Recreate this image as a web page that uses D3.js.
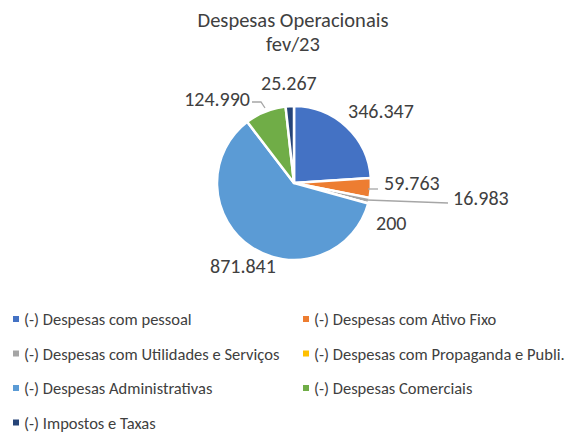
<!DOCTYPE html>
<html>
<head>
<meta charset="utf-8">
<script src="https://cdn.jsdelivr.net/npm/d3@7/dist/d3.min.js"></script>
<style>
  html, body { margin: 0; padding: 0; background: #fff; }
  svg { display: block; font-family: Carlito, Calibri, Lato, "Liberation Sans", sans-serif; }
</style>
</head>
<body>
<svg id="chart" width="579" height="433"></svg>
<script>
const categories = [
  "(-) Despesas com pessoal",
  "(-) Despesas com Ativo Fixo",
  "(-) Despesas com Utilidades e Serviços",
  "(-) Despesas com Propaganda e Publi.",
  "(-) Despesas Administrativas",
  "(-) Despesas Comerciais",
  "(-) Impostos e Taxas"
];
const values = [346347, 59763, 16983, 200, 871841, 124990, 25267];
const valueLabels = ["346.347", "59.763", "16.983", "200", "871.841", "124.990", "25.267"];
const colors = ["#4472C4", "#ED7D31", "#A5A5A5", "#FFC000", "#5B9BD5", "#70AD47", "#264478"];
const titleLines = ["Despesas Operacionais", "fev/23"];

const svg = d3.select("#chart");
const cx = 294, cy = 183, R = 77;

// title
svg.append("g").selectAll("text").data(titleLines).join("text")
  .attr("x", 293).attr("y", (d, i) => 27 + i * 24)
  .attr("text-anchor", "middle")
  .attr("font-size", 20.5).attr("fill", "#404040")
  .text(d => d);

const data = categories.map((c, i) => ({ cat: c, value: values[i], label: valueLabels[i], color: colors[i] }));
const pie = d3.pie().value(d => d.value).sort(null);
const arcs = pie(data);
const arc = d3.arc().innerRadius(0).outerRadius(R);

const g = svg.append("g").attr("transform", `translate(${cx},${cy})`);
g.selectAll("path").data(arcs).join("path")
  .attr("d", arc)
  .attr("fill", d => d.data.color)
  .attr("stroke", "#fff")
  .attr("stroke-width", 2.5)
  .attr("stroke-linejoin", "round");

// label layout (offsets relative to pie center)
const labelLayout = [
  { dx: 54, dy: -72, anchor: "start" },
  { dx: 90, dy: 0, anchor: "start" },
  { dx: 159, dy: 15, anchor: "start" },
  { dx: 82, dy: 40, anchor: "start" },
  { dx: -84, dy: 83, anchor: "start" },
  { dx: -44, dy: -84, anchor: "end" },
  { dx: -33, dy: -100, anchor: "start" }
];

// leader lines (relative to pie center)
const leaderPaths = [
  [[74, 6], [84, 6]],
  [[73, 17], [154, 20]],
  [[-29, -75], [-33, -81], [-42, -81]]
];
leaderPaths.forEach(pts => {
  g.append("path")
    .attr("d", d3.line()(pts))
    .attr("fill", "none")
    .attr("stroke", "#A6A6A6")
    .attr("stroke-width", 1.3);
});

g.selectAll("text.val").data(arcs).join("text")
  .attr("class", "val")
  .attr("x", (d, i) => labelLayout[i].dx)
  .attr("y", (d, i) => labelLayout[i].dy)
  .attr("text-anchor", (d, i) => labelLayout[i].anchor)
  .attr("dominant-baseline", "central")
  .attr("font-size", 20)
  .attr("fill", "#404040")
  .text(d => d.data.label);

// legend
const legend = svg.append("g");
const items = legend.selectAll("g").data(data).join("g")
  .attr("transform", (d, i) => `translate(${i % 2 ? 303 : 13},${319 + Math.floor(i / 2) * 34.5})`);
items.append("rect").attr("x", 0).attr("y", -3).attr("width", 6).attr("height", 6).attr("fill", d => d.color);
items.append("text").attr("x", 11).attr("y", 0)
  .attr("dominant-baseline", "central")
  .attr("font-size", 16.5).attr("fill", "#404040")
  .text(d => d.cat);
</script>
</body>
</html>
